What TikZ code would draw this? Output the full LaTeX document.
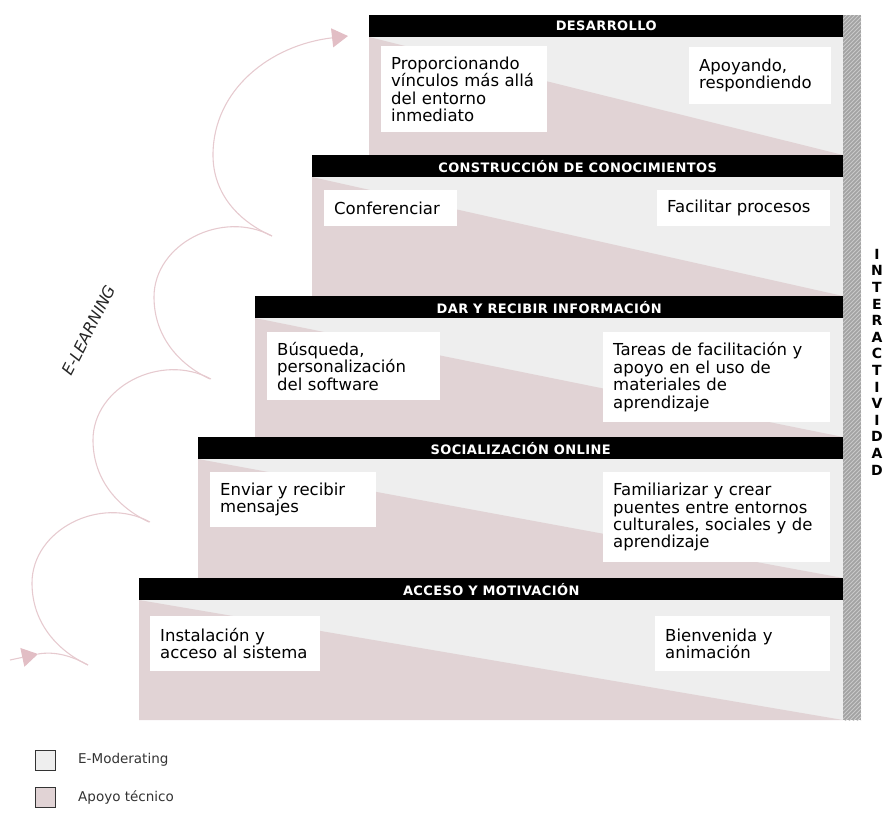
\documentclass[tikz,border=0pt]{standalone}
\usepackage{fontspec}
\setmainfont{DejaVu Sans}
\newfontfamily\hdrfont[LetterSpace=3]{DejaVu Sans}
\usetikzlibrary{arrows.meta}
\definecolor{panelgrey}{HTML}{EEEEEE}
\definecolor{pinkfill}{HTML}{E1D3D5}
\definecolor{looppink}{HTML}{E6CACF}
\definecolor{headpink}{HTML}{E2BEC5}
\definecolor{bargrey}{HTML}{A2A2A2}
\definecolor{barline}{HTML}{C9C9C9}
\begin{document}
\begin{tikzpicture}[x=1pt,y=-1pt,
  hdr/.style={fill=black,text=white,anchor=north west,inner sep=0pt,minimum height=22pt,font=\hdrfont\bfseries\fontsize{13}{13}\selectfont},
  tbox/.style={fill=white,anchor=north west,inner xsep=10pt,inner ysep=0pt,align=left,font=\fontsize{16.5}{17.4}\selectfont},
  loopline/.style={draw=looppink,line width=1.1pt},
  tiparrow/.style={-{Triangle[length=16pt,width=19pt,fill=headpink,color=headpink]}},
  legbox/.style={draw=black!80,line width=1pt,minimum size=20pt,inner sep=0pt,anchor=north west},
  legtext/.style={anchor=west,font=\fontsize{13.5}{16}\selectfont,text=black!80,inner sep=0pt},
]
\useasboundingbox (0,0) rectangle (887,812);

% panels
\newcommand\tierpanel[3]{%
  \fill[panelgrey] (#1,#2+22) rectangle (843,#3);
  \fill[pinkfill] (#1,#2+22) -- (#1,#3) -- (843,#3) -- cycle;}
\tierpanel{369}{15}{155}
\tierpanel{312}{155}{296}
\tierpanel{255}{296}{437}
\tierpanel{198}{437}{578}
\tierpanel{139}{578}{720}

% headers
\node[hdr,minimum width=474pt] (h5) at (369,15) {DESARROLLO};
\node[hdr,minimum width=531pt] (h4) at (312,155) {CONSTRUCCIÓN DE CONOCIMIENTOS};
\node[hdr,minimum width=588pt] (h3) at (255,296) {DAR Y RECIBIR INFORMACIÓN};
\node[hdr,minimum width=645pt] (h2) at (198,437) {SOCIALIZACIÓN ONLINE};
\node[hdr,minimum width=704pt] (h1) at (139,578) {ACCESO Y MOTIVACIÓN};

% text boxes
\node[tbox,minimum width=166pt,minimum height=86pt,text width=146pt] (b5l) at (381,46) {Proporcionando\\vínculos más allá\\del entorno\\inmediato};
\node[tbox,minimum width=142pt,minimum height=57pt,text width=122pt] (b5r) at (689,47) {Apoyando,\\respondiendo};
\node[tbox,minimum width=133pt,minimum height=36pt,text width=113pt] (b4l) at (324,190) {Conferenciar};
\node[tbox,minimum width=173pt,minimum height=36pt,text width=153pt] (b4r) at (657,190) {Facilitar procesos};
\node[tbox,minimum width=173pt,minimum height=68pt,text width=153pt] (b3l) at (267,332) {Búsqueda,\\personalización\\del software};
\node[tbox,minimum width=227pt,minimum height=90pt,text width=207pt] (b3r) at (603,332) {Tareas de facilitación y\\apoyo en el uso de\\materiales de\\aprendizaje};
\node[tbox,minimum width=166pt,minimum height=55pt,text width=146pt] (b2l) at (210,472) {Enviar y recibir\\mensajes};
\node[tbox,minimum width=227pt,minimum height=90pt,text width=207pt] (b2r) at (603,472) {Familiarizar y crear\\puentes entre entornos\\culturales, sociales y de\\aprendizaje};
\node[tbox,minimum width=170pt,minimum height=55pt,text width=150pt] (b1l) at (150,616) {Instalación y\\acceso al sistema};
\node[tbox,minimum width=175pt,minimum height=55pt,text width=155pt] (b1r) at (655,616) {Bienvenida y\\animación};

% hatched bar
\begin{scope}
  \clip (843,15) rectangle (861,720);
  \fill[bargrey] (843,15) rectangle (861,720);
  \foreach \k in {0,...,186} \draw[barline,line width=0.9pt] (843,15+\k*4) -- ++(30,-30);
\end{scope}

\node[font=\bfseries\fontsize{14}{16.6}\selectfont,align=center,inner sep=0pt] (inter) at (877,362) {I\\N\\T\\E\\R\\A\\C\\T\\I\\V\\I\\D\\A\\D};

% E-learning loops
\coordinate (s0) at (10,660);
\coordinate (s1) at (38,654);
\coordinate (c0) at (88,665);
\draw[loopline,tiparrow] (s0) -- (s1);
\draw[loopline] (s1) .. controls (55,651) and (72,656) .. (c0);
\foreach \sx/\sy in {0/0,61/-143,122/-286}{
  \draw[loopline,shift={(\sx,\sy)}] (88,665) .. controls (60,652) and (32,625) .. (32,583)
     .. controls (32,530) and (100,495) .. (150,522);
}
\coordinate (c3) at (272,236);
\coordinate (tipend) at (348,36);
\draw[loopline,tiparrow] (c3) .. controls (240,222) and (213,195) .. (213,155)
   .. controls (213,90) and (270,45) .. (tipend);

\node[rotate=63,font=\itshape\fontsize{16}{16}\selectfont,text=black!85,inner sep=0pt] (elearn) at (89,330) {E-LEARNING};

% legend
\node[legbox,fill=panelgrey] (lg1) at (35,750) {};
\node[legtext] (lt1) at (78,760) {E-Moderating};
\node[legbox,fill=pinkfill] (lg2) at (35,787) {};
\node[legtext] (lt2) at (78,797) {Apoyo técnico};
\end{tikzpicture}
\end{document}
